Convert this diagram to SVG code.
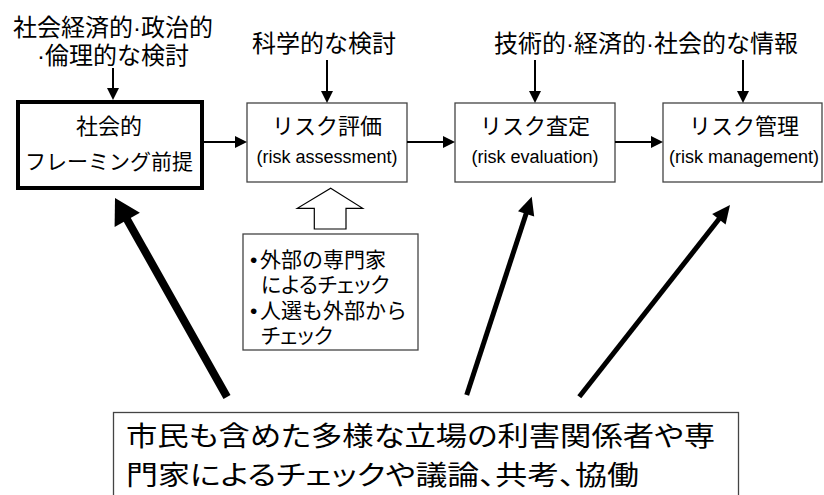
<svg xmlns="http://www.w3.org/2000/svg" width="824" height="495" viewBox="0 0 824 495">
  <style>
    text { font-family: "Liberation Sans", "Noto Sans CJK JP", sans-serif; fill: #000; }
    .lbl { font-size: 24px; text-anchor: middle; }
    .ttl { font-size: 22px; text-anchor: middle; }
    .en { font-size: 18px; text-anchor: middle; }
    .bul { font-size: 21px; }
    .big { font-size: 27px; font-feature-settings: "palt"; }
    .palt { font-feature-settings: "palt"; }
    .box { fill: #fff; stroke: #444; stroke-width: 1.3; }
    .conn { stroke: #000; stroke-width: 2; fill: none; }
  </style>
  <defs>
    <marker id="ah" viewBox="0 0 12 12" refX="10" refY="6" markerWidth="12" markerHeight="12" markerUnits="userSpaceOnUse" orient="auto">
      <path d="M0,0 L12,6 L0,12 z" fill="#000"/>
    </marker>
  </defs>
  <rect width="824" height="495" fill="#fff"/>

  <g id="label-socio">
    <text class="lbl" x="113" y="36">社会経済的·政治的</text>
    <text class="lbl" x="113" y="64">·倫理的な検討</text>
  </g>
  <g id="label-science">
    <text class="lbl" x="324" y="52">科学的な検討</text>
  </g>
  <g id="label-info">
    <text class="lbl" x="646" y="52">技術的·経済的·社会的な情報</text>
  </g>

  <g id="node-framing">
    <rect x="18" y="102" width="184" height="86" fill="#fff" stroke="#000" stroke-width="4"/>
    <text class="ttl" x="109" y="134">社会的</text>
    <text class="ttl" x="109" y="169" style="font-size:21px">フレーミング前提</text>
  </g>
  <g id="node-assessment">
    <rect class="box" x="247" y="103" width="160" height="79"/>
    <text class="ttl" x="327" y="134">リスク評価</text>
    <text class="en" x="327" y="163">(risk assessment)</text>
  </g>
  <g id="node-evaluation">
    <rect class="box" x="455" y="103" width="160" height="79"/>
    <text class="ttl" x="535" y="134">リスク査定</text>
    <text class="en" x="535" y="163">(risk evaluation)</text>
  </g>
  <g id="node-management">
    <rect class="box" x="663" y="103" width="159" height="79"/>
    <text class="ttl" x="744" y="134">リスク管理</text>
    <text class="en" x="744" y="163">(risk management)</text>
  </g>

  <g id="node-check">
    <rect class="box" x="243" y="234" width="175" height="116"/>
    <text class="bul" x="250" y="267">•</text>
    <text class="bul" x="260" y="267">外部の専門家</text>
    <text class="bul palt" x="261" y="292">によるチェック</text>
    <text class="bul" x="250" y="318">•</text>
    <text class="bul" x="260" y="318">人選も外部から</text>
    <text class="bul palt" x="261" y="343">チェック</text>
  </g>

  <g id="node-public">
    <rect class="box" x="113.5" y="412.5" width="625" height="100"/>
    <text class="big" x="126" y="446" textLength="589" lengthAdjust="spacingAndGlyphs">市民も含めた多様な立場の利害関係者や専</text>
    <text class="big" x="126" y="485" textLength="513" lengthAdjust="spacingAndGlyphs">門家によるチェックや議論、共考、協働</text>
  </g>

  <g id="connectors">
    <line class="conn" x1="113" y1="68" x2="113" y2="98" marker-end="url(#ah)"/>
    <line class="conn" x1="327" y1="60" x2="327" y2="101" marker-end="url(#ah)"/>
    <line class="conn" x1="535" y1="60" x2="535" y2="101" marker-end="url(#ah)"/>
    <line class="conn" x1="743" y1="60" x2="743" y2="101" marker-end="url(#ah)"/>
    <line class="conn" x1="204" y1="142" x2="245" y2="142" marker-end="url(#ah)"/>
    <line class="conn" x1="407" y1="142" x2="453" y2="142" marker-end="url(#ah)"/>
    <line class="conn" x1="615" y1="142" x2="661" y2="142" marker-end="url(#ah)"/>

    <path id="block-arrow" d="M330.7,188.3 L362.7,208.3 L346,208.3 L346,229 L314.3,229 L314.3,208.3 L297.3,208.3 Z" fill="#fff" stroke="#000" stroke-width="1.2"/>

    <line x1="227" y1="397" x2="125.8" y2="217.2" stroke="#000" stroke-width="8"/>
    <polygon points="115,198 139.9,212.7 114.6,226.9" fill="#000"/>

    <line x1="466.7" y1="395" x2="527" y2="211" stroke="#000" stroke-width="5"/>
    <polygon points="531.7,196.7 534.2,216.5 518,211.2" fill="#000"/>

    <line x1="579.3" y1="396.7" x2="720" y2="217.8" stroke="#000" stroke-width="5"/>
    <polygon points="730,205 725.6,224.4 712.2,213.9" fill="#000"/>
  </g>
</svg>
